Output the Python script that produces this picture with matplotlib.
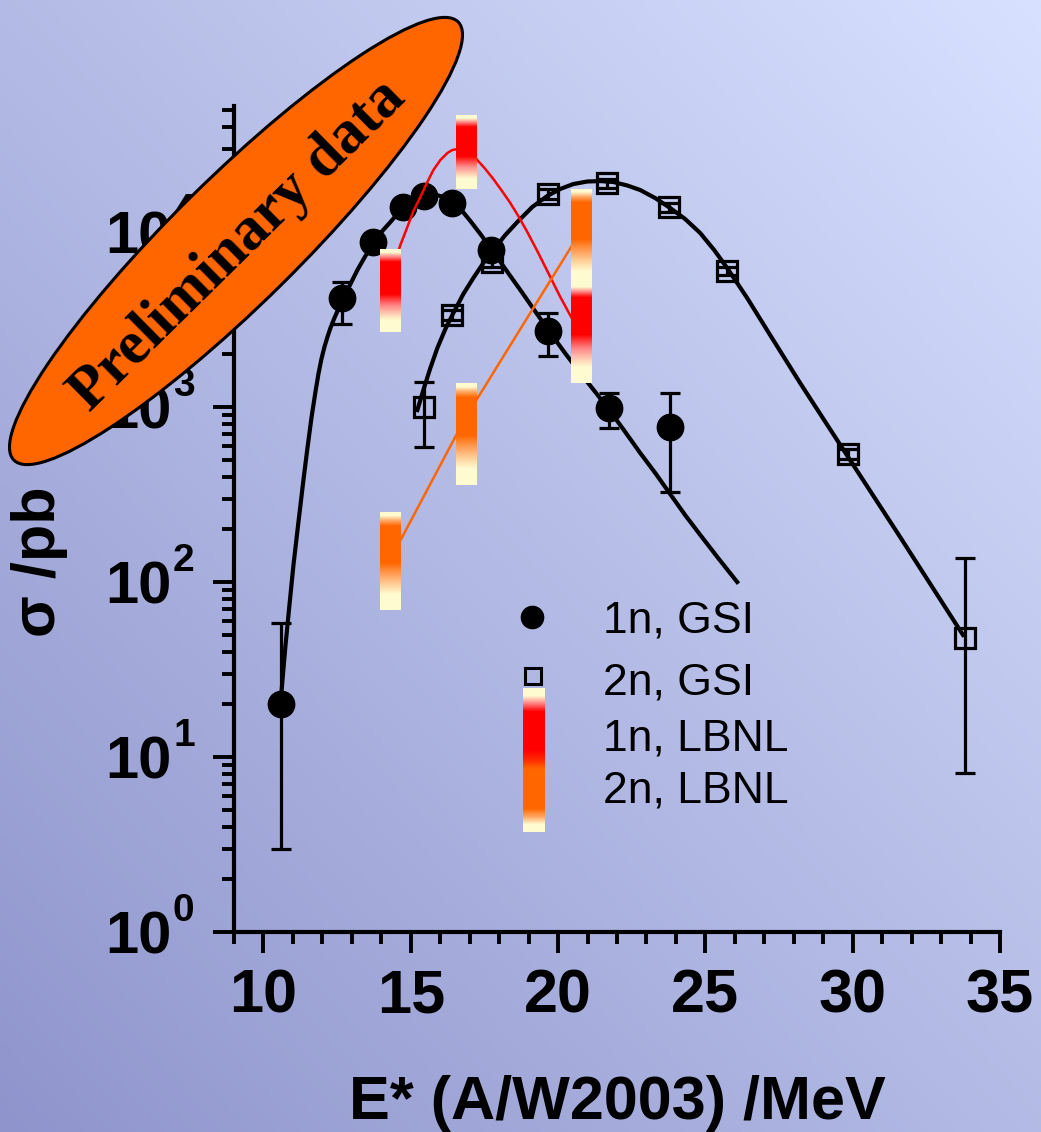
import numpy as np
import matplotlib
matplotlib.use('Agg')
import matplotlib.pyplot as plt
from matplotlib.patches import Ellipse
from matplotlib.colors import LinearSegmentedColormap, to_rgb
from matplotlib.lines import Line2D
from matplotlib.ticker import LogLocator, NullFormatter, MultipleLocator

W, H, DPI = 1041, 1132, 100

# ---------------- data ----------------
# GSI 1n (filled circles)
gsi1_x = [10.61, 12.65, 13.73, 14.72, 15.46, 16.41, 17.73, 19.67, 21.74, 23.81]
gsi1_y = [20, 4200, 8770, 13900, 16000, 14650, 7890, 2720, 987, 769]
gsi1_lo = [3.0, 2980, 8100, 12900, 14800, 13500, 7300, 1955, 760, 327]
gsi1_hi = [58, 5180, 9500, 15000, 17300, 15800, 8500, 3443, 1200, 1200]

# GSI 2n (open squares)
gsi2_x = [15.46, 16.41, 17.77, 19.67, 21.67, 23.77, 25.74, 29.84, 33.81]
gsi2_y = [1000, 3357, 6740, 16500, 19050, 13900, 5990, 539, 47.9]
gsi2_lo = [590, 3150, 6350, 15500, 17900, 13100, 5650, 505, 8.1]
gsi2_hi = [1390, 3580, 7150, 17500, 20200, 14700, 6350, 575, 137]

# fit curves
fit1_x = [10.577, 10.645, 10.746, 10.882, 11.018, 11.187, 11.357, 11.493, 11.628,
          11.764, 11.866, 11.967, 12.069, 12.171, 12.273, 12.408, 12.544, 12.646,
          12.917, 13.189, 13.46, 13.731, 14.003, 14.308, 14.545, 14.817, 15.054,
          15.326, 15.597, 15.868, 16.14, 16.411, 16.716, 17.022, 17.361, 17.734,
          18.209, 18.718, 19.193, 19.668, 20.21, 20.753, 21.262, 21.737, 22.28,
          22.788, 23.297, 23.806, 24.315, 24.824, 25.434, 26.079]
fit1_y = [19.8, 27.5, 43.1, 73.9, 125, 220, 383, 583, 865,
          1219, 1545, 1880, 2203, 2512, 2827, 3226, 3631, 3930,
          4914, 6067, 7295, 8537, 10000, 11400, 12680, 13900, 14840,
          15630, 16170, 16270, 15850, 15040, 13370, 11560, 9750, 8000,
          6150, 4664, 3581, 2754, 2061, 1563, 1219, 961, 720,
          546, 420, 318, 241, 186, 137, 100]

fit2_x = [15.224, 15.427, 15.665, 15.902, 16.174, 16.445, 16.784, 17.123, 17.463,
          17.802, 18.209, 18.616, 19.125, 19.634, 20.075, 20.516, 20.99, 21.432,
          21.873, 22.347, 22.788, 23.297, 23.806, 24.315, 24.824, 25.299, 25.74,
          26.418, 27.198, 28.216, 29.844, 31.608, 33.745]
fit2_y = [961, 1250, 1671, 2173, 2790, 3443, 4424, 5458, 6650,
          7890, 9615, 11400, 13900, 16070, 17620, 18800, 19440, 19550,
          19310, 18450, 17380, 15630, 13710, 11860, 9870, 7890, 6226,
          4197, 2578, 1371, 518, 181, 49.8]

# LBNL
lbnl_x = [14.3, 16.9, 20.8]
lbnl1_lo = [2683, 17600, 1371]
lbnl1_hi = [8000, 46600, 5110]
lbnl2_lo = [69, 358, 4850]
lbnl2_hi = [251, 1371, 17830]

red_x = [14.308, 14.41, 14.647, 14.885, 15.088, 15.326, 15.529, 15.767, 16.004,
         16.242, 16.411, 16.581, 16.75, 16.92, 17.09, 17.259, 17.531, 17.802,
         18.073, 18.379, 18.65, 18.955, 19.294, 19.634, 19.871, 20.075, 20.278,
         20.482, 20.821]
red_y = [4977, 6310, 8430, 10690, 13180, 15850, 18800, 22610, 25780,
         28280, 29420, 29800, 30000, 29800, 28280, 25780, 22910, 20090,
         17380, 14650, 12340, 10000, 7790, 5990, 4977, 4254, 3680,
         3184, 2545]

orange_x = [14.28, 16.85, 20.82]
orange_y = [132, 865, 10400]

xticks = [10, 15, 20, 25, 30, 35]
ydecades = [0, 1, 2, 3, 4]

legend_labels = ['1n, GSI', '2n, GSI', '1n, LBNL', '2n, LBNL']

# ---------------- figure ----------------
plt.rcParams['font.family'] = ['Liberation Sans', 'DejaVu Sans']
fig = plt.figure(figsize=(W / DPI, H / DPI), dpi=DPI)
fig.patch.set_facecolor('#b4bbe6')

# background gradient
bg = fig.add_axes([0, 0, 1, 1], zorder=-10)
bg.axis('off')
xx = np.linspace(0, 1, 300)[None, :]
yy = np.linspace(0, 1, 300)[:, None]
t = ((1 - xx) + yy) / 2.0
c0 = np.array(to_rgb('#d8e1ff'))
c1 = np.array(to_rgb('#8f95cc'))
img = c0[None, None, :] * (1 - t[..., None]) + c1[None, None, :] * t[..., None]
bg.imshow(img, extent=[0, 1, 0, 1], aspect='auto', origin='upper', interpolation='bilinear')
bg.set_xlim(0, 1); bg.set_ylim(0, 1)

def fx(px):
    return px / W

def fy(py):
    return 1 - py / H

ax = fig.add_axes([fx(234), fy(932), (1000 - 234) / W, (932 - 106) / H])
ax.set_facecolor('none')
ax.set_yscale('log')

# fit curves
ax.plot(fit1_x, fit1_y, color='k', lw=3, zorder=3, solid_joinstyle='round')
ax.plot(fit2_x, fit2_y, color='k', lw=3, zorder=3, solid_joinstyle='round')

# GSI data
g1y = np.array(gsi1_y, float)
ax.errorbar(gsi1_x, g1y, yerr=[g1y - np.array(gsi1_lo), np.array(gsi1_hi) - g1y],
            fmt='o', ms=19, color='k', ecolor='k', elinewidth=2.3, capsize=7,
            capthick=2.3, zorder=4)
g2y = np.array(gsi2_y, float)
ax.errorbar(gsi2_x, g2y, yerr=[g2y - np.array(gsi2_lo), np.array(gsi2_hi) - g2y],
            fmt='s', ms=15, mfc='none', mec='k', mew=2.3, color='k', ecolor='k',
            elinewidth=2.3, capsize=7, capthick=2.3, zorder=4)

# LBNL lines
ax.plot(red_x, red_y, color='#ff0000', lw=1.8, zorder=5, solid_joinstyle='round')
ax.plot(orange_x, orange_y, color='#ff6600', lw=1.8, zorder=5)

PALE = '#fffbd0'
def bar_cmap(col, pink):
    return LinearSegmentedColormap.from_list('g', [
        (0.0, PALE), (0.07, PALE), (0.15, pink), (0.24, col), (0.68, col),
        (0.80, pink), (0.92, PALE), (1.0, PALE)])

cm_red = bar_cmap('#ff0000', '#ff8a8a')
cm_or = bar_cmap('#ff6600', '#ffab6a')
grad = np.linspace(0, 1, 200)[:, None]
bw = 0.72
for x, lo, hi in zip(lbnl_x, lbnl2_lo, lbnl2_hi):
    ax.imshow(grad, cmap=cm_or, extent=[x - bw / 2, x + bw / 2, lo, hi],
              origin='upper', aspect='auto', zorder=6, interpolation='bilinear')
for x, lo, hi in zip(lbnl_x, lbnl1_lo, lbnl1_hi):
    ax.imshow(grad, cmap=cm_red, extent=[x - bw / 2, x + bw / 2, lo, hi],
              origin='upper', aspect='auto', zorder=6, interpolation='bilinear')

ax.set_xlim(9, 35)
ax.set_ylim(1, 5.25e4)
ax.set_aspect('auto')

for s in ['top', 'right']:
    ax.spines[s].set_visible(False)
for s in ['left', 'bottom']:
    ax.spines[s].set_linewidth(3)

ax.set_xticks(xticks)
ax.xaxis.set_minor_locator(MultipleLocator(1))
ax.set_xticklabels([str(v) for v in xticks], fontsize=44, fontweight='bold')
ax.yaxis.set_major_locator(LogLocator(base=10, numticks=10))
ax.yaxis.set_minor_locator(LogLocator(base=10, subs=np.arange(2, 10), numticks=20))
ax.yaxis.set_minor_formatter(NullFormatter())
ax.tick_params(which='major', length=15, width=2.8, direction='out', pad=11)
ax.tick_params(which='minor', length=8.5, width=2.8, direction='out')
ax.tick_params(axis='y', which='both', labelleft=False)

# y tick labels 10^n
for e in ydecades:
    v = 10.0 ** e
    ax.annotate('10', xy=(0, v), xycoords=('axes fraction', 'data'),
                xytext=(-62, 0), textcoords='offset pixels', ha='right',
                va='center_baseline', fontsize=43, fontweight='bold', zorder=2)
    ax.annotate(str(e), xy=(0, v), xycoords=('axes fraction', 'data'),
                xytext=(-61, 25), textcoords='offset pixels', ha='left',
                va='center_baseline', fontsize=28, fontweight='bold', zorder=2)

# axis labels
fig.text(fx(617), fy(1119), 'E* (A/W2003) /MeV', ha='center', va='baseline',
         fontsize=44, fontweight='bold')
fig.text(fx(40), fy(562), 'σ /pb', rotation=90, ha='center', va='center',
         fontsize=44, fontweight='bold')

# legend
fig.add_artist(Line2D([fx(532)], [fy(617)], marker='o', ms=16, color='k',
                      transform=fig.transFigure))
fig.add_artist(Line2D([fx(533)], [fy(676)], marker='s', ms=11, mfc='none',
                      mec='k', mew=2.2, transform=fig.transFigure))
leg_cm = LinearSegmentedColormap.from_list('leg', [
    (0.0, PALE), (0.05, PALE), (0.10, '#ff8a8a'), (0.16, '#ff0000'),
    (0.43, '#ff0000'), (0.50, '#ff2a00'), (0.56, '#ff6600'), (0.84, '#ff6600'),
    (0.90, '#ffab6a'), (0.95, PALE), (1.0, PALE)])
lax = fig.add_axes([fx(523), fy(832), 22 / W, 144 / H])
lax.imshow(grad, cmap=leg_cm, aspect='auto', origin='upper', interpolation='bilinear')
lax.axis('off')
for lab, py in zip(legend_labels, [617, 678, 734, 787]):
    fig.text(fx(603), fy(py), lab, ha='left', va='center_baseline', fontsize=32)

# "Preliminary data" ellipse
ell = Ellipse((236 / DPI, (H - 241) / DPI), width=6.24, height=1.26, angle=44.6,
              transform=fig.dpi_scale_trans, facecolor='#ff6600', edgecolor='k',
              lw=2.2, zorder=20)
fig.add_artist(ell)
fig.text(fx(238), fy(246), 'Preliminary data', rotation=44.6, rotation_mode='anchor',
         ha='center', va='center', fontsize=44, fontweight='bold',
         family=['Liberation Serif', 'DejaVu Serif'], zorder=21)

fig.savefig('out.png', dpi=DPI)
